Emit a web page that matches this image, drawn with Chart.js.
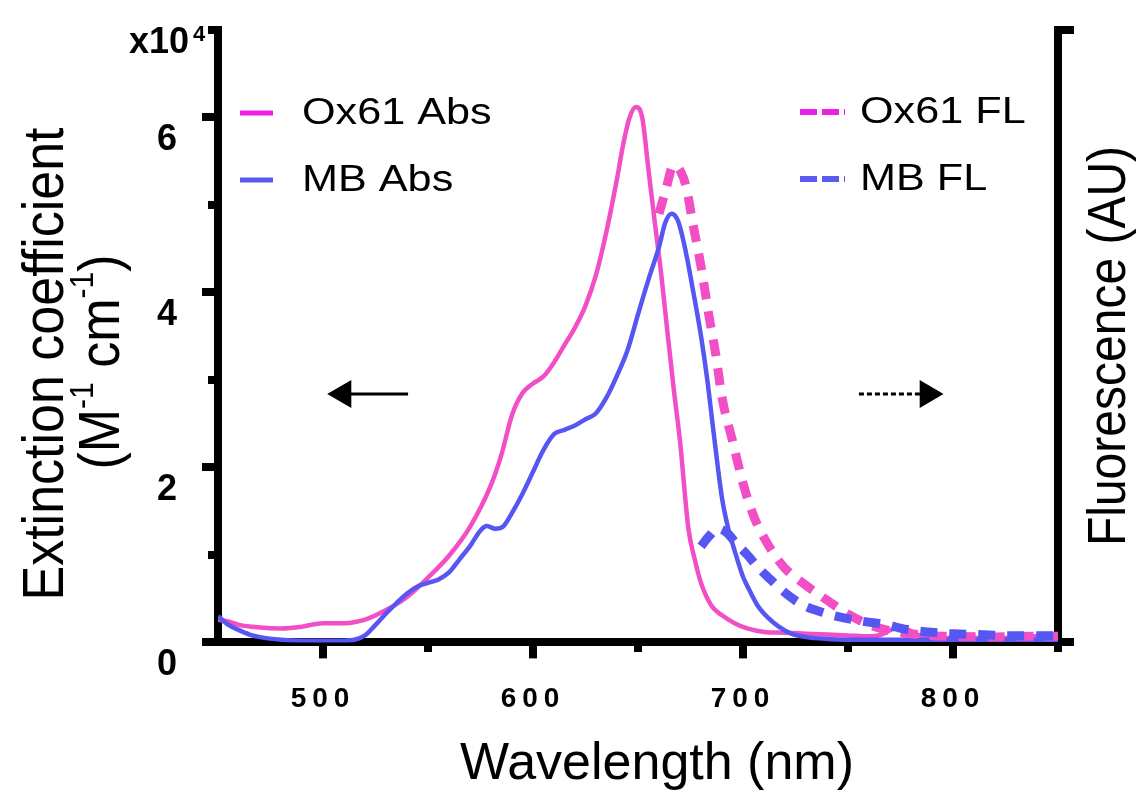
<!DOCTYPE html>
<html>
<head>
<meta charset="utf-8">
<script src="https://cdn.jsdelivr.net/npm/chart.js@4.4.0/dist/chart.umd.min.js"></script>
<style>
  html, body { margin: 0; padding: 0; background: #fff; }
  #wrap { width: 1142px; height: 799px; }
</style>
</head>
<body>
<div id="wrap"><canvas id="chart"></canvas></div>
<script>
const FONT = "'Liberation Sans', Arial, Helvetica, sans-serif";

// absorbance spectra: wavelength (nm) / extinction coefficient (x10^4 M-1 cm-1)
const oxAbsNm = [450, 455, 460, 470, 480, 490, 500, 510, 520, 530, 540, 550, 560, 570, 580, 585, 590, 595, 600, 605, 610, 615, 620, 625, 630, 635, 640, 643, 646, 649, 652, 655, 658, 661, 664, 667, 670, 674, 677, 680, 685, 690, 696, 702, 710, 720, 730, 740, 750, 760, 766, 771, 775, 779, 784, 790, 800, 820, 840, 850];
const oxAbsVal = [0.26, 0.24, 0.2, 0.17, 0.16, 0.18, 0.22, 0.22, 0.26, 0.37, 0.52, 0.74, 0.99, 1.32, 1.8, 2.15, 2.6, 2.85, 2.96, 3.04, 3.2, 3.4, 3.6, 3.85, 4.2, 4.7, 5.3, 5.7, 6.0, 6.12, 6.0, 5.4, 4.8, 4.22, 3.55, 2.9, 2.3, 1.3, 0.95, 0.68, 0.42, 0.31, 0.22, 0.16, 0.12, 0.11, 0.1, 0.09, 0.08, 0.07, 0.09, 0.15, 0.17, 0.14, 0.08, 0.06, 0.05, 0.05, 0.07, 0.06];
const mbAbsNm = [450, 455, 460, 465, 470, 480, 490, 500, 510, 515, 520, 525, 530, 535, 540, 545, 550, 555, 560, 565, 570, 575, 578, 582, 586, 590, 595, 600, 605, 610, 615, 620, 625, 630, 635, 640, 645, 650, 655, 660, 663, 666, 669, 672, 676, 680, 683, 686, 690, 693, 696, 700, 703, 707, 712, 717, 723, 730, 740, 760, 800, 850];
const mbAbsVal = [0.3, 0.2, 0.14, 0.09, 0.06, 0.03, 0.02, 0.02, 0.02, 0.03, 0.08, 0.2, 0.33, 0.45, 0.56, 0.64, 0.68, 0.72, 0.8, 0.95, 1.1, 1.28, 1.33, 1.3, 1.33, 1.48, 1.7, 1.95, 2.2, 2.38, 2.43, 2.48, 2.55, 2.62, 2.8, 3.05, 3.34, 3.75, 4.15, 4.52, 4.8, 4.9, 4.82, 4.55, 4.05, 3.5, 3.0, 2.4, 1.65, 1.3, 1.05, 0.75, 0.6, 0.42, 0.28, 0.18, 0.1, 0.06, 0.04, 0.03, 0.03, 0.03];

// fluorescence spectra: wavelength (nm) / intensity (AU)
const oxFlNm = [660, 663, 667, 670, 673, 676, 680, 684, 687, 690, 695, 700, 705, 710, 715, 720, 730, 740, 750, 760, 770, 780, 790, 800, 820, 840, 850];
const oxFlVal = [70, 73.6, 77.9, 77.1, 74.3, 68.6, 61.4, 52.9, 47.1, 40, 32.9, 26, 20.7, 17.1, 14.3, 12.1, 9.3, 6.9, 4.6, 2.9, 1.9, 1.4, 1.1, 1.0, 0.9, 1.0, 1.0];
const mbFlNm = [680, 684, 688, 692, 697, 702, 707, 713, 720, 729, 738, 748, 758, 768, 778, 788, 800, 812, 826, 838, 850];
const mbFlVal = [15.7, 17.4, 18.6, 18, 16.1, 14.3, 12.3, 10.3, 8.1, 6, 4.9, 4, 3.4, 2.9, 2.1, 1.7, 1.4, 1.3, 1.1, 1.1, 1.1];

const xTickLabels = [500, 600, 700, 800];
const yTickLabels = [0, 2, 4, 6];

const pink = '#f24fc6';
const blue = '#5656f2';

function pts(xs, ys) {
  return xs.map((x, i) => ({ x: x, y: ys[i] }));
}

// drawn last-to-first, so the dashed FL traces sit on top
const datasets = [
  { label: 'MB FL', data: pts(mbFlNm, mbFlVal), yAxisID: 'y2', borderColor: blue, borderWidth: 9, borderDash: [17, 12] },
  { label: 'Ox61 FL', data: pts(oxFlNm, oxFlVal), yAxisID: 'y2', borderColor: pink, borderWidth: 9, borderDash: [17, 12] },
  { label: 'MB Abs', data: pts(mbAbsNm, mbAbsVal), yAxisID: 'y', borderColor: blue, borderWidth: 4.5 },
  { label: 'Ox61 Abs', data: pts(oxAbsNm, oxAbsVal), yAxisID: 'y', borderColor: pink, borderWidth: 4.5 },
];

const legendItems = [
  { label: 'Ox61 Abs', color: '#ee1ee6', dashed: false, x: 240, y: 113 },
  { label: 'MB Abs', color: '#5a5af0', dashed: false, x: 240, y: 180 },
  { label: 'Ox61 FL', color: '#ee1ee6', dashed: true, x: 800, y: 112 },
  { label: 'MB FL', color: '#5a5af0', dashed: true, x: 800, y: 179 },
];

// text in the source figure is a little wider than tall
function wideText(ctx, text, x, y, size, sx) {
  ctx.save();
  ctx.translate(x, y);
  ctx.scale(sx, 1);
  ctx.font = `${size}px ${FONT}`;
  ctx.fillText(text, 0, 0);
  ctx.restore();
}

function drawRich(ctx, parts, size, supSize, rise) {
  let total = 0;
  parts.forEach(p => {
    ctx.font = `${p.sup ? supSize : size}px ${FONT}`;
    p.w = ctx.measureText(p.t).width;
    total += p.w;
  });
  let x = -total / 2;
  ctx.textAlign = 'left';
  parts.forEach(p => {
    ctx.font = `${p.sup ? supSize : size}px ${FONT}`;
    ctx.fillText(p.t, x, p.sup ? -rise : 0);
    x += p.w;
  });
}

// wide-set digits on the x axis; y labels are drawn after datasets with normal spacing
const spacing = {
  id: 'spacing',
  beforeDraw(chart) { chart.ctx.letterSpacing = '6px'; },
  afterDatasetsDraw(chart) { chart.ctx.letterSpacing = '0px'; },
};

const extras = {
  id: 'extras',
  afterDraw(chart) {
    const { ctx } = chart;
    const sx = chart.scales.x, sy = chart.scales.y;
    ctx.save();
    ctx.letterSpacing = '0px';
    ctx.fillStyle = '#000';
    ctx.strokeStyle = '#000';

    // axis multiplier
    ctx.textAlign = 'left';
    ctx.textBaseline = 'alphabetic';
    ctx.font = `bold 36px ${FONT}`;
    ctx.fillText('x10', 129, 53);
    ctx.font = `bold 22px ${FONT}`;
    ctx.fillText('4', 193, 41);

    // x title
    ctx.textAlign = 'center';
    ctx.textBaseline = 'middle';
    ctx.font = `52px ${FONT}`;
    ctx.fillText('Wavelength (nm)', 657, 765);

    // left title, two lines
    ctx.save();
    ctx.translate(47, 364);
    ctx.rotate(-Math.PI / 2);
    ctx.scale(1, 1.1);
    ctx.textAlign = 'center';
    ctx.textBaseline = 'middle';
    ctx.font = `52px ${FONT}`;
    ctx.fillText('Extinction coefficient', 0, 0);
    ctx.restore();
    ctx.save();
    ctx.translate(103, 362);
    ctx.rotate(-Math.PI / 2);
    ctx.scale(1, 1.1);
    ctx.textBaseline = 'middle';
    drawRich(ctx, [
      { t: '(M' }, { t: '-1', sup: true }, { t: ' cm' }, { t: '-1', sup: true }, { t: ')' }
    ], 52, 30, 17);
    ctx.restore();

    // right title
    ctx.save();
    ctx.translate(1110, 346);
    ctx.rotate(-Math.PI / 2);
    ctx.scale(1, 1.1);
    ctx.textAlign = 'center';
    ctx.textBaseline = 'middle';
    ctx.font = `48px ${FONT}`;
    ctx.fillText('Fluorescence (AU)', 0, 0);
    ctx.restore();

    // legends
    legendItems.forEach(item => {
      ctx.save();
      ctx.strokeStyle = item.color;
      ctx.lineCap = 'butt';
      ctx.beginPath();
      if (item.dashed) {
        ctx.lineWidth = 6;
        ctx.setLineDash([17, 5]);
        ctx.moveTo(item.x, item.y);
        ctx.lineTo(item.x + 45, item.y);
      } else {
        ctx.lineWidth = 5;
        ctx.moveTo(item.x, item.y);
        ctx.lineTo(item.x + 33, item.y);
      }
      ctx.stroke();
      ctx.restore();
      ctx.textAlign = 'left';
      ctx.textBaseline = 'middle';
      wideText(ctx, item.label, item.dashed ? 860 : 302, item.y + 1, 36, 1.2);
    });

    // arrows pointing at each axis
    const ay = sy.getPixelForValue(2.84);
    const l0 = sx.getPixelForValue(502), l1 = sx.getPixelForValue(513), l2 = sx.getPixelForValue(540.5);
    ctx.lineWidth = 3;
    ctx.beginPath();
    ctx.moveTo(l1, ay);
    ctx.lineTo(l2, ay);
    ctx.stroke();
    ctx.beginPath();
    ctx.moveTo(l0, ay);
    ctx.lineTo(l1 + 1, ay - 14);
    ctx.lineTo(l1 + 1, ay + 14);
    ctx.closePath();
    ctx.fill();

    const r0 = sx.getPixelForValue(755.2), r1 = sx.getPixelForValue(784.6), r2 = sx.getPixelForValue(795.5);
    ctx.save();
    ctx.setLineDash([5, 3]);
    ctx.beginPath();
    ctx.moveTo(r0, ay);
    ctx.lineTo(r1, ay);
    ctx.stroke();
    ctx.restore();
    ctx.beginPath();
    ctx.moveTo(r2, ay);
    ctx.lineTo(r1 - 1, ay - 14);
    ctx.lineTo(r1 - 1, ay + 14);
    ctx.closePath();
    ctx.fill();

    ctx.restore();
  }
};

new Chart(document.getElementById('chart'), {
  type: 'line',
  data: { datasets: datasets },
  options: {
    responsive: true,
    maintainAspectRatio: false,
    animation: false,
    layout: { padding: { top: 30, right: 68, bottom: 59, left: 132 } },
    elements: {
      point: { radius: 0 },
      line: { cubicInterpolationMode: 'monotone', borderCapStyle: 'butt', fill: false },
    },
    plugins: {
      legend: { display: false },
      tooltip: { enabled: false },
    },
    scales: {
      x: {
        type: 'linear',
        min: 450,
        max: 850,
        border: { display: true, color: '#000', width: 8 },
        grid: {
          drawOnChartArea: false,
          tickLength: 16,
          tickWidth: 8,
          lineWidth: 32,
          tickColor: (c) => (c.tick && c.tick.value === 450 ? 'rgba(0,0,0,0)' : '#000'),
          tickBorderDash: (c) => (c.tick && c.tick.value % 100 !== 0 ? [6, 100] : []),
        },
        ticks: {
          stepSize: 50,
          autoSkip: false,
          maxRotation: 0,
          padding: 24,
          color: '#000',
          font: { family: FONT, size: 28, weight: 'bold' },
          callback: (v) => (xTickLabels.includes(v) ? String(v) : ''),
        },
      },
      y: {
        position: 'left',
        min: 0,
        max: 7,
        border: { display: true, color: '#000', width: 8 },
        grid: {
          drawOnChartArea: false,
          tickLength: 16,
          tickWidth: 8,
          lineWidth: 8,
          tickColor: '#000',
          tickBorderDash: (c) => (c.tick && c.tick.value % 2 !== 0 ? [0, 6, 6, 100] : []),
        },
        ticks: {
          z: 1,
          stepSize: 1,
          autoSkip: false,
          padding: 25,
          labelOffset: 23,
          color: '#000',
          font: { family: FONT, size: 36, weight: 'bold', lineHeight: 0.2 },
          callback: (v) => (yTickLabels.includes(v) ? String(v) : ''),
        },
      },
      y2: {
        position: 'right',
        min: 0,
        max: 100,
        border: { display: true, color: '#000', width: 8 },
        grid: {
          drawOnChartArea: false,
          tickLength: 16,
          tickWidth: 8,
          lineWidth: 8,
          tickColor: '#000',
        },
        ticks: { display: false, stepSize: 100 },
      },
    },
  },
  plugins: [spacing, extras],
});
</script>
</body>
</html>
